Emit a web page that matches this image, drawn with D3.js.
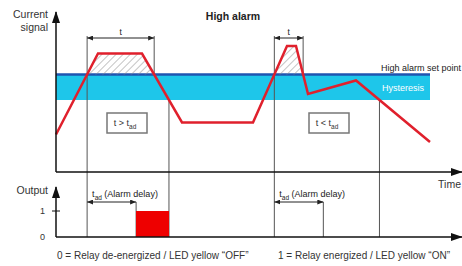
<!DOCTYPE html>
<html>
<head>
<meta charset="utf-8">
<script src="https://cdn.jsdelivr.net/npm/d3@7"></script>
<style>
  body { margin: 0; background: #fff; }
  svg { display: block; font-family: "Liberation Sans", Arial, sans-serif; }
</style>
</head>
<body>
<svg></svg>
<script>
var width = 462;
var height = 266;

// signal curve (time units, % of range)
var signalTime = [0, 42, 86, 126, 197, 231, 240, 252, 300, 374];
var signalValue = [25, 79, 79, 33, 33, 84, 84, 52, 61, 20];

var setPoint = 65;
var hysteresisLow = 48;
var bandEnd = 374;
var alarmDelay = 49;

// relay output (on intervals)
var outputFrom = [80];
var outputTo = [113];
var outputTicks = [0, 1];

var svg = d3.select("svg").attr("width", width).attr("height", height);

var x = d3.scaleLinear().domain([0, 400]).range([56, 456]);
var y = d3.scaleLinear().domain([0, 100]).range([172, 22]);
var yOut = d3.scaleLinear().domain([0, 1]).range([237, 211]);

var defs = svg.append("defs");
defs.append("marker").attr("id", "bigArrow")
    .attr("markerUnits", "userSpaceOnUse")
    .attr("markerWidth", 12).attr("markerHeight", 8)
    .attr("refX", 11).attr("refY", 4).attr("orient", "auto")
    .append("path").attr("d", "M0,0 L12,4 L0,8 Z").attr("fill", "#111");
defs.append("marker").attr("id", "smallArrow")
    .attr("markerUnits", "userSpaceOnUse")
    .attr("markerWidth", 6).attr("markerHeight", 5)
    .attr("refX", 6).attr("refY", 2.5).attr("orient", "auto-start-reverse")
    .append("path").attr("d", "M0,0 L6,2.5 L0,5 Z").attr("fill", "#222");
var pat = defs.append("pattern").attr("id", "hatch")
    .attr("patternUnits", "userSpaceOnUse")
    .attr("width", 5).attr("height", 5)
    .attr("patternTransform", "rotate(45)");
pat.append("line").attr("x1", 0).attr("y1", 0).attr("x2", 0).attr("y2", 5)
    .attr("stroke", "#8a8a8a").attr("stroke-width", 1);

// find threshold crossings of the signal
function crossings(level) {
    var res = [];
    for (var i = 0; i < signalTime.length - 1; i++) {
        var a = signalValue[i], b = signalValue[i + 1];
        if ((a - level) * (b - level) < 0) {
            var t = signalTime[i] + (level - a) / (b - a) * (signalTime[i + 1] - signalTime[i]);
            res.push({t: t, up: b > a});
        }
    }
    return res;
}
var spCross = crossings(setPoint);
var lowCross = crossings(hysteresisLow).filter(function(d) { return !d.up; });
var rises = spCross.filter(function(d) { return d.up; });
var falls = spCross.filter(function(d) { return !d.up; });

// hysteresis band + set point
svg.append("rect")
    .attr("x", x(0)).attr("y", y(setPoint))
    .attr("width", x(bandEnd) - x(0)).attr("height", y(hysteresisLow) - y(setPoint))
    .attr("fill", "#1ec6ea");
svg.append("line")
    .attr("x1", x(0)).attr("x2", x(bandEnd))
    .attr("y1", y(setPoint)).attr("y2", y(setPoint))
    .attr("stroke", "#1f55b0").attr("stroke-width", 2.5);
svg.append("text").attr("x", 381).attr("y", y(setPoint) - 4)
    .attr("font-size", 9).attr("fill", "#222").text("High alarm set point");
svg.append("text").attr("x", 382).attr("y", 91)
    .attr("font-size", 9).attr("fill", "#fff").text("Hysteresis");

// hatched area above set point
var pts = signalTime.map(function(t, i) { return {t: t, v: signalValue[i]}; });
spCross.forEach(function(c) { pts.push({t: c.t, v: setPoint}); });
pts.sort(function(a, b) { return a.t - b.t; });
var area = d3.area()
    .x(function(d) { return x(d.t); })
    .y0(y(setPoint))
    .y1(function(d) { return y(Math.max(d.v, setPoint)); });
svg.append("path").datum(pts).attr("d", area).attr("fill", "url(#hatch)");

// vertical guide lines
var guide = svg.append("g").attr("stroke", "#555").attr("stroke-width", 1);
rises.forEach(function(c) {
    guide.append("line").attr("x1", x(c.t)).attr("x2", x(c.t))
        .attr("y1", 36).attr("y2", yOut(0));
});
falls.forEach(function(c) {
    guide.append("line").attr("x1", x(c.t)).attr("x2", x(c.t))
        .attr("y1", 36).attr("y2", y(setPoint));
});
lowCross.forEach(function(c) {
    guide.append("line").attr("x1", x(c.t)).attr("x2", x(c.t))
        .attr("y1", y(hysteresisLow)).attr("y2", yOut(0));
});
rises.forEach(function(c) {
    var te = c.t + alarmDelay;
    guide.append("line").attr("x1", x(te)).attr("x2", x(te))
        .attr("y1", 202).attr("y2", yOut(0));
    guide.append("line").attr("x1", x(c.t)).attr("x2", x(te))
        .attr("y1", 202).attr("y2", 202).attr("stroke", "#222")
        .attr("marker-start", "url(#smallArrow)").attr("marker-end", "url(#smallArrow)");
    var lab = svg.append("text").attr("x", x(c.t) + 5).attr("y", 197)
        .attr("font-size", 9).attr("fill", "#222");
    lab.append("tspan").text("t");
    lab.append("tspan").attr("dy", 3).attr("font-size", 6.5).text("ad");
    lab.append("tspan").attr("dy", -3).text(" (Alarm delay)");
});

// "t" duration brackets
rises.forEach(function(c, i) {
    var f = falls[i];
    guide.append("line").attr("x1", x(c.t)).attr("x2", x(f.t))
        .attr("y1", 38).attr("y2", 38).attr("stroke", "#222")
        .attr("marker-start", "url(#smallArrow)").attr("marker-end", "url(#smallArrow)");
    svg.append("text").attr("x", (x(c.t) + x(f.t)) / 2).attr("y", 35)
        .attr("text-anchor", "middle").attr("font-size", 8.5).attr("fill", "#222").text("t");
});

// comparison boxes
var boxes = [{t: 51, op: "t > t"}, {t: 253, op: "t < t"}];
boxes.forEach(function(b) {
    svg.append("rect").attr("x", x(b.t)).attr("y", 113).attr("width", 40).attr("height", 20)
        .attr("fill", "#fff").attr("stroke", "#777").attr("stroke-width", 1.5);
    var tx = svg.append("text").attr("x", x(b.t) + 18).attr("y", 126)
        .attr("text-anchor", "middle").attr("font-size", 9).attr("fill", "#333");
    tx.append("tspan").text(b.op);
    tx.append("tspan").attr("dy", 3).attr("font-size", 6.5).text("ad");
});

// signal line
var line = d3.line()
    .x(function(d, i) { return x(signalTime[i]); })
    .y(function(d) { return y(d); });
svg.append("path").datum(signalValue).attr("d", line)
    .attr("fill", "none").attr("stroke", "#e0202c").attr("stroke-width", 2.5)
    .attr("stroke-linejoin", "miter");

// output bars
outputFrom.forEach(function(f, i) {
    svg.append("rect").attr("x", x(f)).attr("y", yOut(1))
        .attr("width", x(outputTo[i]) - x(f)).attr("height", yOut(0) - yOut(1))
        .attr("fill", "#ee0000");
});

// axes
var ax = svg.append("g").attr("stroke", "#111").attr("stroke-width", 1.5);
ax.append("line").attr("x1", x(0)).attr("x2", x(0)).attr("y1", y(0)).attr("y2", 12)
    .attr("marker-end", "url(#bigArrow)");
ax.append("line").attr("x1", x(0)).attr("x2", 462).attr("y1", y(0)).attr("y2", y(0))
    .attr("marker-end", "url(#bigArrow)");
ax.append("line").attr("x1", x(0)).attr("x2", x(0)).attr("y1", yOut(0)).attr("y2", 187)
    .attr("marker-end", "url(#bigArrow)");
ax.append("line").attr("x1", x(0)).attr("x2", 462).attr("y1", yOut(0)).attr("y2", yOut(0))
    .attr("marker-end", "url(#bigArrow)");
ax.append("line").attr("x1", x(0) - 4).attr("x2", x(0) + 4)
    .attr("y1", yOut(1)).attr("y2", yOut(1)).attr("stroke-width", 1);

outputTicks.forEach(function(v) {
    svg.append("text").attr("x", 45).attr("y", yOut(v) + 3).attr("text-anchor", "end")
        .attr("font-size", 9).attr("fill", "#333").text(v);
});

// labels
var txt = svg.append("g").attr("fill", "#333").attr("font-size", 10.5);
txt.append("text").attr("x", 48).attr("y", 18).attr("text-anchor", "end").text("Current");
txt.append("text").attr("x", 48).attr("y", 31).attr("text-anchor", "end").text("signal");
txt.append("text").attr("x", 48).attr("y", 194).attr("text-anchor", "end").text("Output");
txt.append("text").attr("x", 461).attr("y", 188).attr("text-anchor", "end").text("Time");
txt.append("text").attr("x", 233).attr("y", 20).attr("text-anchor", "middle")
    .attr("font-weight", "bold").attr("font-size", 10.5).attr("fill", "#222").text("High alarm");
txt.append("text").attr("x", 57).attr("y", 259).attr("font-size", 10)
    .text("0 = Relay de-energized / LED yellow \u201COFF\u201D");
txt.append("text").attr("x", 278).attr("y", 259).attr("font-size", 10)
    .text("1 = Relay energized / LED yellow \u201CON\u201D");
</script>
</body>
</html>
